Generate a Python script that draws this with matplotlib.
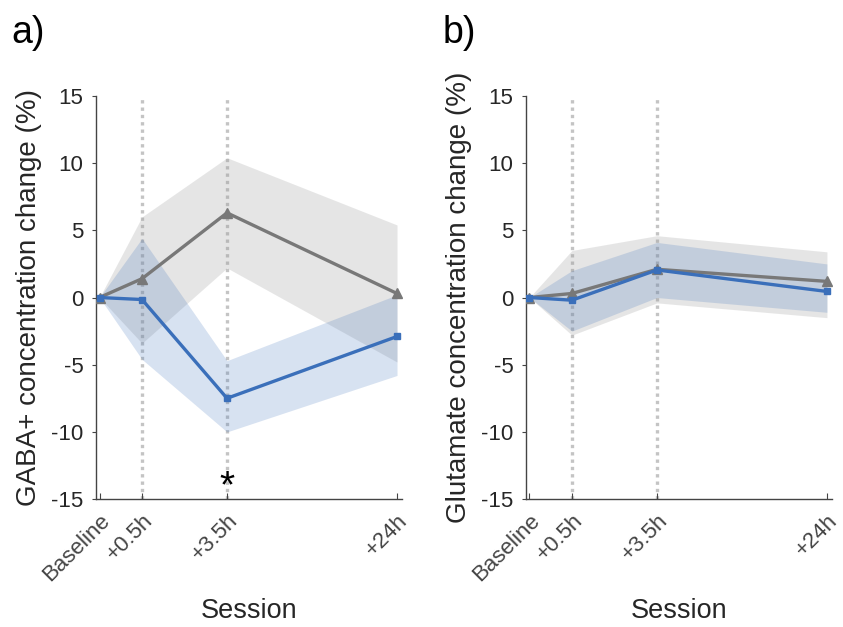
import matplotlib
matplotlib.use("Agg")
import matplotlib.pyplot as plt
import numpy as np

plt.rcParams["font.family"] = ["Liberation Sans", "DejaVu Sans"]
plt.rcParams["axes.unicode_minus"] = False

sessions = ["Baseline", "+0.5h", "+3.5h", "+24h"]
session_pos = [0, 1, 3, 7]

# panel a: GABA+
gaba_ctrl = [0, 1.4, 6.3, 0.3]
gaba_ctrl_hi = [0, 6.0, 10.4, 5.4]
gaba_ctrl_lo = [0, -3.4, 2.2, -4.8]
gaba_stim = [0, -0.15, -7.5, -2.9]
gaba_stim_hi = [0, 4.4, -4.7, 0.2]
gaba_stim_lo = [0, -4.6, -10.0, -5.8]

# panel b: glutamate
glu_ctrl = [0, 0.3, 2.1, 1.2]
glu_ctrl_hi = [0, 3.5, 4.6, 3.4]
glu_ctrl_lo = [0, -2.8, -0.4, -1.5]
glu_stim = [0, -0.2, 2.05, 0.45]
glu_stim_hi = [0, 2.0, 4.1, 2.5]
glu_stim_lo = [0, -2.5, 0.0, -1.1]

BLUE = "#3a6fba"
GREY = "#787878"
TXT = "#262626"


def draw_panel(ax, ctrl, ctrl_lo, ctrl_hi, stim, stim_lo, stim_hi, ylabel):
    x = np.array(session_pos)
    for xv in (1, 3):
        ax.plot([xv, xv], [-15, 15], color="#c4c4c4", lw=2.4,
                ls=(0, (1, 1.2)), zorder=1)
    ax.fill_between(x, ctrl_lo, ctrl_hi, color="#9a9a9a", alpha=0.25,
                    lw=0, zorder=2)
    ax.fill_between(x, stim_lo, stim_hi, color=BLUE, alpha=0.2,
                    lw=0, zorder=2)
    ax.plot(x, ctrl, color=GREY, lw=2.4, marker="^", ms=7.5, zorder=3)
    ax.plot(x, stim, color=BLUE, lw=2.4, marker="s", ms=5, zorder=4)

    ax.set_xlim(-0.08, 7.12)
    ax.set_ylim(-15, 15)
    ax.set_yticks(np.arange(-15, 16, 5))
    ax.set_xticks(session_pos)
    ax.set_xticklabels(sessions, rotation=45, ha="right",
                       rotation_mode="anchor", fontsize=16, color=TXT)
    ax.tick_params(axis="y", direction="out", length=3, labelsize=16,
                   colors="#444444", labelcolor=TXT, pad=6)
    ax.tick_params(axis="x", direction="in", length=4, colors="#444444",
                   pad=8)
    for s in ("top", "right"):
        ax.spines[s].set_visible(False)
    for s in ("left", "bottom"):
        ax.spines[s].set_color("#444444")
        ax.spines[s].set_linewidth(1.0)
    ax.set_ylabel(ylabel, fontsize=20, color=TXT, labelpad=7)
    ax.set_xlabel("Session", fontsize=19.5, color=TXT, labelpad=9)


fig = plt.figure(figsize=(8.43, 6.27), dpi=100)
ax_a = fig.add_axes([0.114, 0.204, 0.363, 0.643])
ax_b = fig.add_axes([0.624, 0.204, 0.363, 0.643])

draw_panel(ax_a, gaba_ctrl, gaba_ctrl_lo, gaba_ctrl_hi,
           gaba_stim, gaba_stim_lo, gaba_stim_hi,
           "GABA+ concentration change (%)")
draw_panel(ax_b, glu_ctrl, glu_ctrl_lo, glu_ctrl_hi,
           glu_stim, glu_stim_lo, glu_stim_hi,
           "Glutamate concentration change (%)")

ax_a.text(3, -14.1, "*", ha="center", va="center", fontsize=28, color="black")

fig.text(0.014, 0.948, "a)", fontsize=27, color="black", va="center")
fig.text(0.525, 0.948, "b)", fontsize=27, color="black", va="center")

fig.savefig("out.png", dpi=100)
